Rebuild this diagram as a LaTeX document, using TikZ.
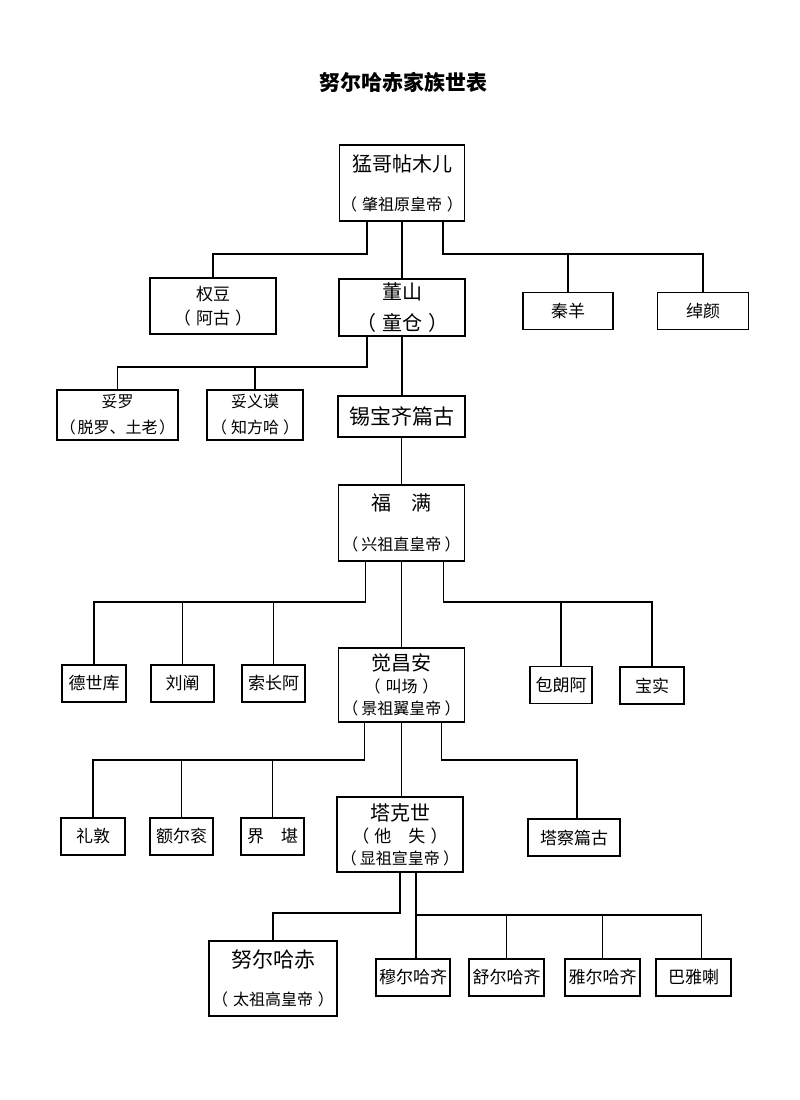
\documentclass[tikz,border=0pt]{standalone}
\usepackage{fontspec}
\setmainfont{Noto Sans CJK SC}
\usetikzlibrary{calc}
\newcommand\mypar[2][0.3em]{（\hspace{#1}#2\hspace{#1}）}
\tikzset{
  box/.style={draw, line width=1.6pt, inner sep=0pt, align=center, fill=white},
  conn/.style={line width=1.5pt},
}
\begin{document}
\begin{tikzpicture}[x=1pt,y=-1pt]
\useasboundingbox[fill=white] (0,0) rectangle (800,1100);
% title
\node[font=\fontsize{21}{25}\selectfont\bfseries] (title) at (403,82) {努尔哈赤家族世表};
% generation 1
\node[box, minimum width=125, minimum height=76, font=\fontsize{20}{39}\selectfont] (A) at (402,183)
  {猛哥帖木儿\\{\fontsize{16}{39}\selectfont \mypar{肇祖原皇帝}}};
% generation 2
\node[box, minimum width=126, minimum height=56, font=\fontsize{17}{24}\selectfont] (B1) at (213,306) {权豆\\\mypar{阿古}};
\node[box, minimum width=126, minimum height=57, font=\fontsize{20}{31}\selectfont] (B2) at (402,307.5) {\raisebox{-3pt}{董山}\\\raisebox{-3pt}{\mypar{童仓}}};
\node[box, minimum width=90, minimum height=37, font=\fontsize{17}{20}\selectfont] (B3) at (568,311) {秦羊};
\node[box, minimum width=91, minimum height=37, font=\fontsize{17}{20}\selectfont] (B4) at (703,311) {绰颜};
% generation 3
\node[box, minimum width=121, minimum height=50, font=\fontsize{16}{26}\selectfont] (C1) at (117.5,415) {妥罗\\\mypar[0.1em]{脱罗、土老}};
\node[box, minimum width=96, minimum height=50, font=\fontsize{16}{26}\selectfont] (C2) at (255,415) {妥义谟\\\mypar[0.25em]{知方哈}};
\node[box, minimum width=127, minimum height=41, font=\fontsize{21}{25}\selectfont] (C3) at (401.5,416.5) {锡宝齐篇古};
% generation 4
\node[box, minimum width=126, minimum height=76, font=\fontsize{20}{40}\selectfont] (D) at (401.5,523)
  {福　满\\{\fontsize{16}{40}\selectfont \mypar[0.2em]{兴祖直皇帝}}};
% generation 5
\node[box, minimum width=64, minimum height=37, font=\fontsize{17}{20}\selectfont] (E1) at (94,683.5) {德世库};
\node[box, minimum width=63, minimum height=37, font=\fontsize{17}{20}\selectfont] (E2) at (182.5,683.5) {刘阐};
\node[box, minimum width=63, minimum height=37, font=\fontsize{17}{20}\selectfont] (E3) at (273.5,683.5) {索长阿};
\node[box, minimum width=126, minimum height=74, font=\fontsize{20}{22}\selectfont] (E4) at (401.5,685)
  {觉昌安\\{\fontsize{16}{22}\selectfont \mypar{叫场}}\\{\fontsize{16}{22}\selectfont \mypar[0.2em]{景祖翼皇帝}}};
\node[box, minimum width=62, minimum height=37, font=\fontsize{17}{20}\selectfont] (E5) at (561,685) {包朗阿};
\node[box, minimum width=64, minimum height=37, font=\fontsize{17}{20}\selectfont] (E6) at (652,685.5) {宝实};
% generation 6
\node[box, minimum width=64, minimum height=37, font=\fontsize{17}{20}\selectfont] (F1) at (93,836.5) {礼敦};
\node[box, minimum width=63, minimum height=37, font=\fontsize{17}{20}\selectfont] (F2) at (181.5,836.5) {额尔衮};
\node[box, minimum width=63, minimum height=37, font=\fontsize{17}{20}\selectfont] (F3) at (272.5,836.5) {界　堪};
\node[box, minimum width=126, minimum height=75, font=\fontsize{20}{22}\selectfont] (F4) at (400,834.5)
  {塔克世\\{\fontsize{17}{22}\selectfont \mypar{他　失}}\\{\fontsize{16}{22}\selectfont \mypar[0.2em]{显祖宣皇帝}}};
\node[box, minimum width=92, minimum height=37, font=\fontsize{17}{20}\selectfont] (F5) at (574,837.5) {塔察篇古};
% generation 7
\node[box, minimum width=128, minimum height=75, font=\fontsize{21}{38}\selectfont] (G1) at (273,978.5)
  {努尔哈赤\\{\fontsize{16}{38}\selectfont \mypar{太祖高皇帝}}};
\node[box, minimum width=74, minimum height=37, font=\fontsize{17}{20}\selectfont] (G2) at (413,977.5) {穆尔哈齐};
\node[box, minimum width=75, minimum height=37, font=\fontsize{17}{20}\selectfont] (G3) at (506.5,977.5) {舒尔哈齐};
\node[box, minimum width=75, minimum height=37, font=\fontsize{17}{20}\selectfont] (G4) at (602.5,977.5) {雅尔哈齐};
\node[box, minimum width=75, minimum height=37, font=\fontsize{17}{20}\selectfont] (G5) at (693.5,977.5) {巴雅喇};

% connectors A
\draw[conn] ([xshift=-35pt]A.south) -- ++(0,32) -| (B1.north);
\draw[conn] (A.south) -- (A.south |- B2.north);
\draw[conn] ([xshift=41pt]A.south) -- ++(0,32) coordinate (jA) -| (B4.north);
\draw[conn] (jA -| B3.north) -- (B3.north);
% connectors B2
\draw[conn] ([xshift=-35pt]B2.south) -- ++(0,30) coordinate (jB) -| (C1.north);
\draw[conn] (jB -| C2.north) -- (C2.north);
\draw[conn] (B2.south) -- (B2.south |- C3.north);
% C3 to D
\draw[conn] (C3.south) -- (C3.south |- D.north);
% connectors D
\draw[conn] ([xshift=-36pt]D.south) -- ++(0,40) coordinate (jD) -| (E1.north);
\draw[conn] (jD -| E2.north) -- (E2.north);
\draw[conn] (jD -| E3.north) -- (E3.north);
\draw[conn] (D.south) -- (D.south |- E4.north);
\draw[conn] ([xshift=42pt]D.south) -- ++(0,40) coordinate (jD2) -| (E6.north);
\draw[conn] (jD2 -| E5.north) -- (E5.north);
% connectors E4
\draw[conn] ([xshift=-37pt]E4.south) -- ++(0,37) coordinate (jE) -| (F1.north);
\draw[conn] (jE -| F2.north) -- (F2.north);
\draw[conn] (jE -| F3.north) -- (F3.north);
\draw[conn] (E4.south) -- (E4.south |- F4.north);
\draw[conn] ([xshift=40pt]E4.south) -- ++(0,37) -| ([xshift=3pt]F5.north);
% connectors F4
\draw[conn] (F4.south) -- ++(0,40) -| (G1.north);
\draw[conn] ([xshift=16pt]F4.south) -- ++(0,42) coordinate (jF) -| ([xshift=8pt]G5.north);
\draw[conn] (jF) -- (jF |- G2.north);
\draw[conn] (jF -| G3.north) -- (G3.north);
\draw[conn] (jF -| G4.north) -- (G4.north);
\end{tikzpicture}
\end{document}
